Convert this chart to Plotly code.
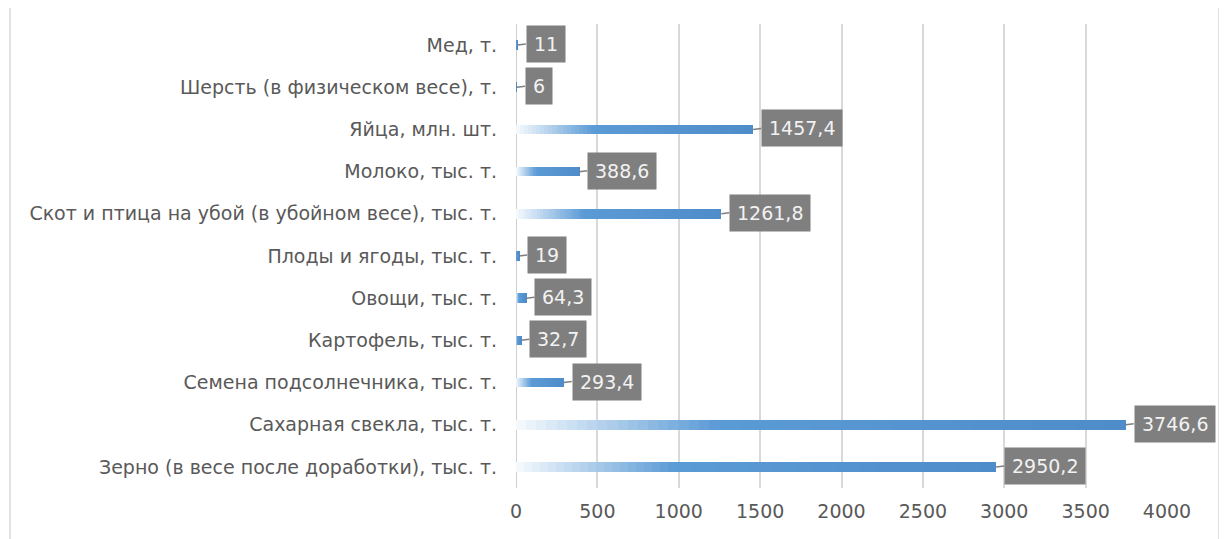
import plotly.graph_objects as go

categories = [
    "Мед, т.",
    "Шерсть (в физическом весе), т.",
    "Яйца, млн. шт.",
    "Молоко, тыс. т.",
    "Скот и птица на убой (в убойном весе), тыс. т.",
    "Плоды и ягоды, тыс. т.",
    "Овощи, тыс. т.",
    "Картофель, тыс. т.",
    "Семена подсолнечника, тыс. т.",
    "Сахарная свекла, тыс. т.",
    "Зерно (в весе после доработки), тыс. т.",
]
values = [11, 6, 1457.4, 388.6, 1261.8, 19, 64.3, 32.7, 293.4, 3746.6, 2950.2]
x_ticks = [0, 500, 1000, 1500, 2000, 2500, 3000, 3500, 4000]

FONT = "DejaVu Sans"
TXT = "#595959"

# page body has an 8px margin, so the figure starts at (8, 8) in the window
W, H = 1219, 531
L, T, B = 508, 16, 51
PW = 651
PH = H - T - B

# gradient fill simulated with stacked segments
N = 60
c0 = (246, 250, 253)
c1 = (91, 155, 213)
c2 = (78, 140, 202)


def seg_color(i):
    t = (i + 0.5) / N
    if t < 0.33:
        f = t / 0.33
        c = [c0[k] + (c1[k] - c0[k]) * f for k in range(3)]
    else:
        f = (t - 0.33) / 0.67
        c = [c1[k] + (c2[k] - c1[k]) * f for k in range(3)]
    return "rgb(%d,%d,%d)" % tuple(int(round(v)) for v in c)


fig = go.Figure()
for i in range(N):
    fig.add_trace(go.Bar(
        y=categories,
        x=[v / N for v in values],
        orientation="h",
        marker=dict(color=seg_color(i), line=dict(width=0)),
        width=0.23,
        showlegend=False,
        hoverinfo="skip",
    ))

for cat, v in zip(categories, values):
    txt = ("%g" % v).replace(".", ",")
    fig.add_annotation(
        x=v, y=cat, xref="x", yref="y",
        text=txt,
        showarrow=True, arrowhead=0, arrowwidth=1.5, arrowcolor="#7f7f7f",
        ax=8, ay=-1, xanchor="left", yanchor="middle",
        bgcolor="#7f7f7f", borderpad=7,
        font=dict(family=FONT, size=19, color="#f2f2f2"),
    )

fig.update_layout(
    width=W, height=H,
    barmode="stack",
    bargap=0,
    paper_bgcolor="white", plot_bgcolor="white",
    margin=dict(l=L, r=W - L - PW, t=T, b=B, autoexpand=False),
    font=dict(family=FONT, color=TXT, size=19),
    xaxis=dict(
        range=[0, 4000], tickvals=x_ticks, showgrid=True, gridcolor="#d9d9d9",
        gridwidth=1.5, zeroline=False, showline=False, ticks="",
        tickfont=dict(family=FONT, size=19, color=TXT), ticklabelstandoff=10,
    ),
    yaxis=dict(
        categoryorder="array", categoryarray=categories, autorange="reversed",
        showgrid=False, zeroline=False, showline=False, ticks="",
        tickfont=dict(family=FONT, size=19, color=TXT), ticklabelstandoff=18,
    ),
    shapes=[
        dict(type="line", xref="x", yref="paper", x0=0, x1=0, y0=0, y1=1,
             line=dict(color="#bfbfbf", width=1.5), layer="below"),
        dict(type="line", xref="paper", yref="paper", x0=(2 - L) / PW, x1=(2 - L) / PW,
             y0=-B / PH, y1=(H - B) / PH, line=dict(color="#d9d9d9", width=1.5)),
        dict(type="line", xref="paper", yref="paper", x0=(1211 - L) / PW, x1=(1211 - L) / PW,
             y0=-B / PH, y1=(H - B) / PH, line=dict(color="#d9d9d9", width=1.5)),
    ],
)

fig.write_html("out.html")
